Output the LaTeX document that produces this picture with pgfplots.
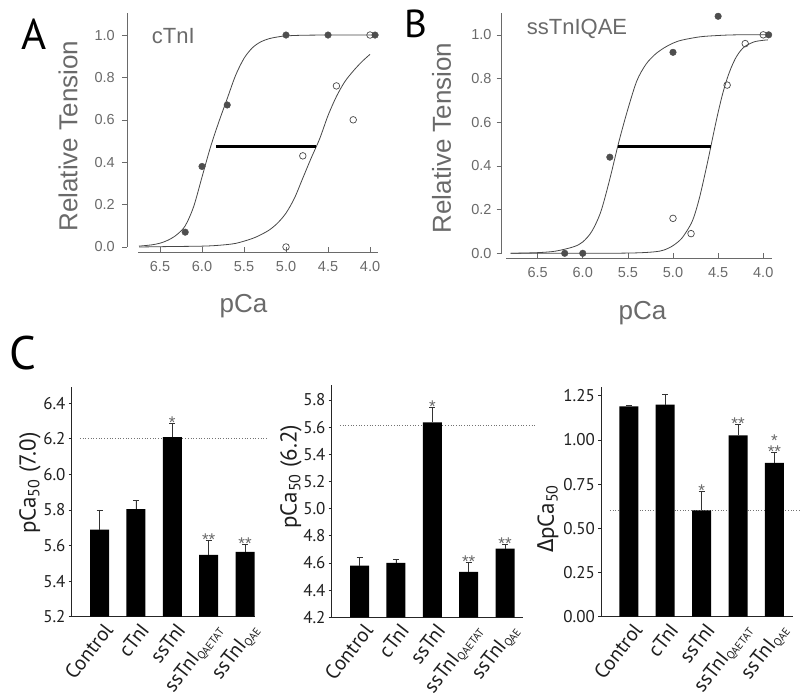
\documentclass[border=0pt]{standalone}
\usepackage{fontspec}
\setmainfont{Liberation Sans}
\newfontfamily\pts{PT Sans}
\newfontfamily\grk{Fira Sans}
\usepackage{pgfplots}
\pgfplotsset{compat=1.18}
\definecolor{axgray}{HTML}{6A6A6A}
\definecolor{curvegray}{HTML}{474747}
\definecolor{ptgray}{HTML}{4E4E4E}
\newcommand\sbs[1]{\raisebox{-0.12em}{\fontsize{11}{11}\selectfont #1}}
\tikzset{astk/.style={anchor=base, inner sep=0pt, yshift=-5pt, font=\fontsize{17}{17}\selectfont, text=black!60}}
\pgfplotsset{
  curvepanel/.style={
    scale only axis, anchor=south west, x dir=reverse,
    axis line style={draw=none},
    xtick={4,4.5,5,5.5,6,6.5}, ytick={0,0.2,0.4,0.6,0.8,1.0},
    xtick pos=bottom, ytick pos=left,
    xtick align=inside, ytick align=outside,
    major tick length=5pt,
    tick style={axgray, line width=0.6pt},
    ticklabel style={font=\fontsize{14.5}{14.5}\selectfont, text=axgray},
    xticklabel style={anchor=base, yshift=-20pt},
    yticklabel style={anchor=east, inner sep=0pt},
    /pgf/number format/fixed, /pgf/number format/fixed zerofill,
    /pgf/number format/precision=1, /pgf/number format/assume math mode=true,
    label style={font=\fontsize{26}{26}\selectfont, text=axgray},
    clip=false,
  },
  barpanel/.style={
    scale only axis, anchor=south west,
    axis x line*=bottom, axis y line*=left,
    axis line style={line width=1pt, black!85, -},
    xtick={0,1,2,3,4},
    xticklabels={Control, cTnI, ssTnI, ssTnI\sbs{QAETAT}, ssTnI\sbs{QAE}},
    x tick style={draw=none},
    ytick align=outside, major tick length=3pt,
    y tick style={black!85, line width=0.8pt},
    ticklabel style={font=\pts\fontsize{17}{17}\selectfont, text=black!88},
    xticklabel style={xshift=3pt, yshift=-4.5pt, rotate=52, anchor=north east, inner sep=0pt, font=\pts\fontsize{20.5}{20.5}\selectfont},
    yticklabel style={anchor=east, inner sep=0pt, xshift=-3pt},
    /pgf/number format/fixed, /pgf/number format/fixed zerofill,
    /pgf/number format/assume math mode=true,
    label style={font=\pts\fontsize{23}{23}\selectfont, text=black!88},
    clip=false,
  },
}
\begin{document}
\begin{tikzpicture}
\path[use as bounding box] (0pt,0pt) rectangle (800pt,699pt);

% ---------------- Panel A ----------------
\begin{axis}[curvepanel,
  at={(127pt,447pt)}, width=251pt, height=239pt,
  xmin=3.905, xmax=6.893, ymin=-0.0236, ymax=1.104,
  yticklabel style={xshift=-7pt},
  ylabel={Relative Tension}, xlabel={pCa},
  ylabel style={at={(axis description cs:-0.235,0.485)}, anchor=center},
  xlabel style={at={(axis description cs:0.464,-0.255)}, anchor=base},
]
\draw[axgray, line width=0.7pt] (axis cs:6.762,-0.0236) -- (axis cs:3.905,-0.0236);
\draw[axgray, line width=0.7pt] (axis cs:6.893,0) -- (axis cs:6.893,1.104);
\addplot[curvegray, line width=0.8pt, smooth] coordinates {
 (6.75,0.004) (6.6,0.01) (6.5,0.018) (6.4,0.033) (6.3,0.058) (6.2,0.10)
 (6.1,0.19) (6.0,0.33) (5.9,0.47) (5.8,0.59) (5.7,0.70) (5.6,0.81)
 (5.5,0.89) (5.4,0.94) (5.3,0.968) (5.2,0.983) (5.1,0.991) (5.0,0.996)
 (4.8,0.999) (4.5,1.0) (3.905,1.0)};
\addplot[curvegray, line width=0.8pt, smooth] coordinates {
 (6.75,0.0) (6.4,0.002) (6.0,0.004) (5.8,0.008) (5.6,0.017) (5.4,0.040)
 (5.3,0.058) (5.2,0.08) (5.1,0.113) (5.0,0.16) (4.9,0.23) (4.8,0.325)
 (4.7,0.42) (4.6,0.51) (4.5,0.62) (4.4,0.71) (4.3,0.78) (4.2,0.83)
 (4.1,0.873) (4.0,0.909)};
\addplot[black, line width=3.3pt] coordinates {(5.833,0.473) (4.646,0.473)};
\addplot[only marks, mark=*, mark size=3.3pt, mark options={fill=ptgray, draw=ptgray}] coordinates {
 (6.2,0.07) (6.0,0.38) (5.7,0.67) (5.0,1.0) (4.5,1.0) (3.94,1.0)};
\addplot[only marks, mark=o, mark size=3.3pt, mark options={draw=curvegray, fill=white, line width=0.7pt}] coordinates {
 (5.0,0.0) (4.8,0.43) (4.4,0.76) (4.2,0.60) (4.0,1.0)};
\end{axis}
\node[anchor=base west, inner sep=0pt, font=\fontsize{22}{22}\selectfont, text=axgray] at (151.7pt,655.7pt) {cTnI};

% ---------------- Panel B ----------------
\begin{axis}[curvepanel,
  at={(501.7pt,441pt)}, width=270.3pt, height=245pt,
  xmin=3.903, xmax=6.898, ymin=-0.0215, ymax=1.10,
  yticklabel style={xshift=-5pt},
  ylabel={Relative Tension}, xlabel={pCa},
  ylabel style={at={(axis description cs:-0.222,0.49)}, anchor=center},
  xlabel style={at={(axis description cs:0.521,-0.249)}, anchor=base},
]
\draw[axgray, line width=0.7pt] (axis cs:6.85,-0.0215) -- (axis cs:3.903,-0.0215);
\draw[axgray, line width=0.7pt] (axis cs:6.898,0) -- (axis cs:6.898,1.10);
\addplot[curvegray, line width=0.8pt, smooth] coordinates {
 (6.8,0.0) (6.5,0.003) (6.3,0.010) (6.1,0.030) (6.0,0.052) (5.9,0.10)
 (5.8,0.19) (5.7,0.34) (5.6,0.51) (5.5,0.66) (5.4,0.79) (5.3,0.865)
 (5.2,0.91) (5.1,0.94) (5.0,0.962) (4.9,0.976) (4.7,0.991) (4.5,0.997)
 (4.3,1.0) (3.92,1.0)};
\addplot[curvegray, line width=0.8pt, smooth] coordinates {
 (6.8,0.0) (5.8,0.0) (5.4,0.002) (5.2,0.007) (5.1,0.015) (5.0,0.035)
 (4.9,0.07) (4.8,0.135) (4.75,0.19) (4.7,0.265) (4.65,0.355) (4.6,0.45)
 (4.55,0.55) (4.5,0.645) (4.45,0.73) (4.4,0.80) (4.35,0.855) (4.3,0.898)
 (4.25,0.928) (4.2,0.948) (4.1,0.968) (4.0,0.975) (3.95,0.977)};
\addplot[black, line width=3.3pt] coordinates {(5.613,0.488) (4.576,0.488)};
\addplot[only marks, mark=*, mark size=3.3pt, mark options={fill=ptgray, draw=ptgray}] coordinates {
 (6.2,0.0) (6.0,0.0) (5.7,0.44) (5.0,0.92) (4.5,1.085) (3.94,1.0)};
\addplot[only marks, mark=o, mark size=3.3pt, mark options={draw=curvegray, fill=white, line width=0.7pt}] coordinates {
 (5.0,0.16) (4.8,0.09) (4.4,0.77) (4.2,0.96) (4.0,1.0)};
\end{axis}
\node[anchor=base west, inner sep=0pt, font=\fontsize{22}{22}\selectfont, text=axgray] at (526.7pt,664pt) {ssTnIQAE};

% ---------------- Panel C1 ----------------
\begin{axis}[barpanel,
  at={(71.7pt,82.3pt)}, width=183.3pt, height=230pt,
  xmin=-0.764, xmax=4.272, ymin=5.2, ymax=6.493,
  ytick={5.2,5.4,5.6,5.8,6.0,6.2,6.4},
  /pgf/number format/precision=1,
  ylabel={pCa\textsubscript{50} (7.0)},
  ylabel style={at={(axis description cs:-0.2275,0.581)}, anchor=center},
]
\addplot[sharp plot, dotted, black!55, line width=0.7pt] coordinates {(-0.54,6.2) (4.63,6.2)};
\addplot[ybar, bar width=19pt, bar shift=0pt, fill=black, draw=none,
  error bars/.cd, y dir=plus, y explicit,
  error bar style={line width=0.7pt, black!80},
  error mark options={rotate=90, mark size=3pt, line width=0.7pt, black!80}]
 coordinates {(0,5.69) +- (0,0.11) (1,5.805) +- (0,0.05) (2,6.21) +- (0,0.075)
              (3,5.547) +- (0,0.084) (4,5.565) +- (0,0.04)};
\node[astk] at (axis cs:2,6.285) {*};
\node[astk] at (axis cs:3,5.631) {**};
\node[astk] at (axis cs:4,5.605) {**};
\end{axis}

% ---------------- Panel C2 ----------------
\begin{axis}[barpanel,
  at={(331.7pt,81.7pt)}, width=191.6pt, height=232.3pt,
  xmin=-0.764, xmax=4.5, ymin=4.2, ymax=5.91,
  ytick={4.2,4.4,4.6,4.8,5.0,5.2,5.4,5.6,5.8},
  /pgf/number format/precision=1,
  ylabel={pCa\textsubscript{50} (6.2)},
  ylabel style={at={(axis description cs:-0.212,0.605)}, anchor=center},
]
\addplot[sharp plot, dotted, black!55, line width=0.7pt] coordinates {(-0.54,5.615) (4.82,5.615)};
\addplot[ybar, bar width=19pt, bar shift=0pt, fill=black, draw=none,
  error bars/.cd, y dir=plus, y explicit,
  error bar style={line width=0.7pt, black!80},
  error mark options={rotate=90, mark size=3pt, line width=0.7pt, black!80}]
 coordinates {(0,4.58) +- (0,0.06) (1,4.60) +- (0,0.03) (2,5.635) +- (0,0.11)
              (3,4.535) +- (0,0.07) (4,4.705) +- (0,0.03)};
\node[astk] at (axis cs:2,5.745) {*};
\node[astk] at (axis cs:3,4.605) {**};
\node[astk] at (axis cs:4,4.735) {**};
\end{axis}

% ---------------- Panel C3 ----------------
\begin{axis}[barpanel,
  at={(601pt,82.3pt)}, width=192pt, height=230pt,
  xmin=-0.764, xmax=4.51, ymin=0, ymax=1.301,
  ytick={0,0.25,0.5,0.75,1.0,1.25},
  /pgf/number format/precision=2,
  ylabel={{\grk Δ}pCa\textsubscript{50}},
  ylabel style={at={(axis description cs:-0.276,0.425)}, anchor=center},
]
\addplot[sharp plot, dotted, black!55, line width=0.7pt] coordinates {(-0.52,0.603) (4.7,0.603)};
\addplot[ybar, bar width=19pt, bar shift=0pt, fill=black, draw=none,
  error bars/.cd, y dir=plus, y explicit,
  error bar style={line width=0.7pt, black!80},
  error mark options={rotate=90, mark size=3pt, line width=0.7pt, black!80}]
 coordinates {(0,1.19) +- (0,0.005) (1,1.20) +- (0,0.06) (2,0.602) +- (0,0.105)
              (3,1.025) +- (0,0.062) (4,0.87) +- (0,0.057)};
\node[astk] at (axis cs:2,0.707) {*};
\node[astk] at (axis cs:3,1.087) {**};
\node[astk] at (axis cs:4,0.927) {**};
\node[astk, yshift=11pt] at (axis cs:4,0.927) {*};
\end{axis}

% panel letters
\node[anchor=base west, inner sep=0pt, font=\pts\fontsize{43}{43}\selectfont] at (21pt,649pt) {A};
\node[anchor=base west, inner sep=0pt, font=\pts\fontsize{39}{39}\selectfont] at (404pt,661.7pt) {B};
\node[anchor=base west, inner sep=0pt, font=\pts\fontsize{47}{47}\selectfont] at (9pt,329pt) {C};
\end{tikzpicture}
\end{document}
